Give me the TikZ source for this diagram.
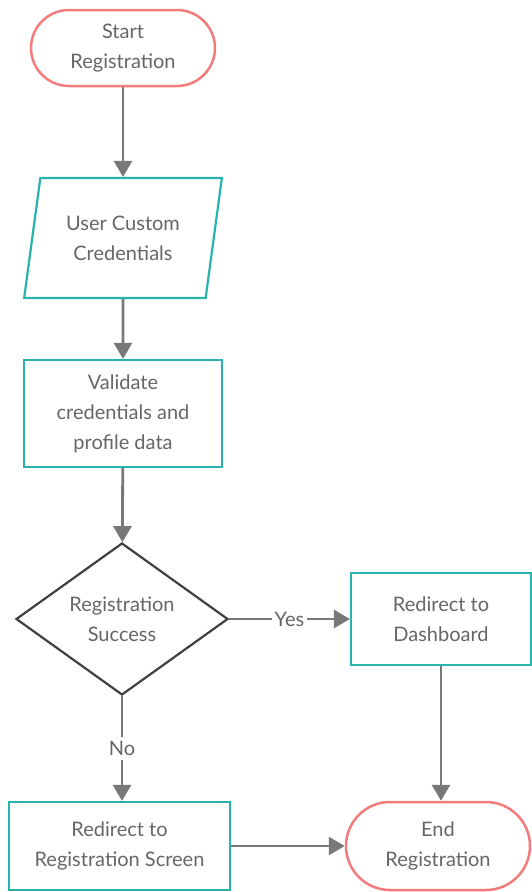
\documentclass[tikz,border=0pt]{standalone}
\usepackage{fontspec}
\setmainfont{Lato}
\usetikzlibrary{shapes.geometric,arrows.meta}
\definecolor{termred}{HTML}{F27B7B}
\definecolor{boxteal}{HTML}{2AB3AE}
\definecolor{linegray}{HTML}{787878}
\definecolor{txtgray}{HTML}{666666}
\tikzset{
  every node/.style={text=txtgray, font=\fontsize{20}{30}\selectfont, align=center, inner sep=0pt},
  terminal/.style={draw=termred, line width=2.5pt, rectangle, rounded corners=38pt, minimum width=184pt, minimum height=76pt},
  process/.style={draw=boxteal, line width=2.2pt, rectangle, minimum width=198pt, minimum height=107pt},
  io/.style={draw=boxteal, line width=2.2pt, trapezium, trapezium left angle=76, trapezium right angle=104,
    trapezium stretches=true, minimum width=198pt, minimum height=120pt},
  decision/.style={draw=black!75, line width=2.2pt, diamond, minimum width=212pt, minimum height=152pt},
  flow/.style={draw=linegray, line width=2.8pt, -{Triangle[length=16pt,width=18pt]}},
}
\begin{document}
\begin{tikzpicture}[x=1pt,y=-1pt]
\useasboundingbox (0,0) rectangle (532,892);
\node[terminal] at (123, 48)    (start)  {Start\\Registration};
\node[io]       at (123, 238)   (input)  {User Custom\\Credentials};
\node[process]  at (123, 413.5) (valid)  {Validate\\credentials and\\profile data};
\node[decision] at (122, 619)   (decide) {Registration\\Success};
\node[process, minimum width=180pt, minimum height=92pt] at (441, 619) (dash) {Redirect to\\Dashboard};
\node[process, minimum width=221pt, minimum height=88pt] at (119.5, 846) (screen) {Redirect to\\Registration Screen};
\node[terminal, minimum height=88pt, rounded corners=44pt] at (438, 846) (end) {End\\Registration};
\draw[flow] (start) -- (input);
\draw[flow] (input) -- (valid);
\draw[flow] (valid) -- (decide);
\draw[flow] (decide.east) -- node[fill=white, inner xsep=3pt] {Yes} (dash.west);
\draw[flow] (decide.south) -- node[fill=white, inner ysep=4pt] {No} (decide.south |- screen.north);
\draw[flow] (dash.south) -- (dash.south |- end.north);
\draw[flow] (screen.east) -- (screen.east -| end.west);
\end{tikzpicture}
\end{document}
